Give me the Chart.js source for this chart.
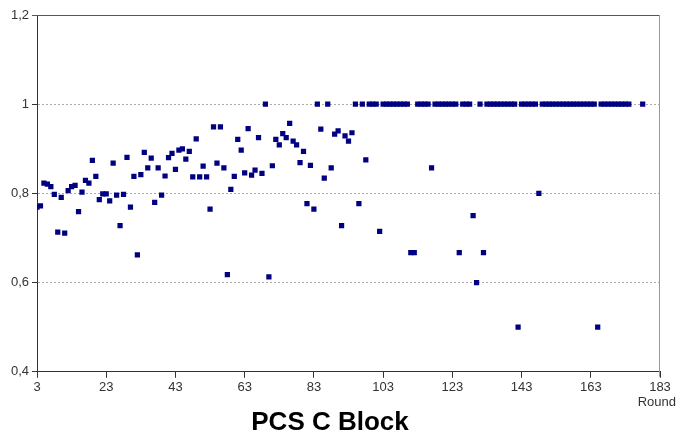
<!DOCTYPE html>
<html>
<head>
<meta charset="utf-8">
<title>PCS C Block</title>
<script src="https://cdn.jsdelivr.net/npm/chart.js@4.4.1/dist/chart.umd.min.js"></script>
<style>
 html, body { margin: 0; padding: 0; background: #fff; }
</style>
</head>
<body>
<canvas id="pcsChart" width="676" height="439"></canvas>
<script>
// rounds (x) and score (y)
var rounds = [
  3, 4, 5, 6, 7, 8, 9, 10, 11, 12, 13, 14, 15, 16, 17, 18, 19, 20, 21, 22,
  23, 24, 25, 26, 27, 28, 29, 30, 31, 32, 33, 34, 35, 36, 37, 38, 39, 40, 41, 42,
  43, 44, 45, 46, 47, 48, 49, 50, 51, 52, 53, 54, 55, 56, 57, 58, 59, 60, 61, 62,
  63, 64, 65, 66, 67, 68, 69, 70, 71, 72, 73, 74, 75, 76, 77, 78, 79, 80, 81, 82,
  83, 84, 85, 86, 87, 88, 89, 90, 91, 92, 93, 94, 95, 96, 97, 98, 99, 100, 101, 102,
  103, 104, 105, 106, 107, 108, 109, 110, 111, 112, 113, 114, 115, 116, 117, 118, 119, 120, 121, 122,
  123, 124, 125, 126, 127, 128, 129, 130, 131, 132, 133, 134, 135, 136, 137, 138, 139, 140, 141, 142,
  143, 144, 145, 146, 147, 148, 149, 150, 151, 152, 153, 154, 155, 156, 157, 158, 159, 160, 161, 162,
  163, 164, 165, 166, 167, 168, 169, 170, 171, 172, 173, 174, 178
];
var scores = [
  0.769, 0.772, 0.823, 0.821, 0.815, 0.798, 0.713, 0.791, 0.711, 0.806, 0.815, 0.818, 0.759, 0.803, 0.829, 0.823, 0.874, 0.838, 0.786, 0.799,
  0.799, 0.783, 0.868, 0.796, 0.728, 0.798, 0.881, 0.769, 0.838, 0.662, 0.842, 0.892, 0.857, 0.879, 0.780, 0.857, 0.796, 0.839, 0.880, 0.890,
  0.854, 0.897, 0.900, 0.877, 0.894, 0.837, 0.922, 0.837, 0.861, 0.837, 0.765, 0.949, 0.868, 0.949, 0.857, 0.618, 0.809, 0.838, 0.921, 0.897,
  0.846, 0.945, 0.841, 0.852, 0.925, 0.845, 1, 0.613, 0.862, 0.921, 0.909, 0.934, 0.925, 0.957, 0.917, 0.909, 0.869, 0.894, 0.777, 0.863,
  0.765, 1, 0.944, 0.834, 1, 0.857, 0.933, 0.940, 0.728, 0.929, 0.917, 0.936, 1, 0.777, 1, 0.875, 1, 1, 1, 0.715,
  1, 1, 1, 1, 1, 1, 1, 1, 0.667, 0.667, 1, 1, 1, 1, 0.857, 1, 1, 1, 1, 1,
  1, 1, 0.667, 1, 1, 1, 0.75, 0.6, 1, 0.667, 1, 1, 1, 1, 1, 1, 1, 1, 1, 0.5,
  1, 1, 1, 1, 1, 0.8, 1, 1, 1, 1, 1, 1, 1, 1, 1, 1, 1, 1, 1, 1,
  1, 1, 0.5, 1, 1, 1, 1, 1, 1, 1, 1, 1, 1
];
var xTicks = [3, 23, 43, 63, 83, 103, 123, 143, 163, 183];
var yTicks = [0.4, 0.6, 0.8, 1, 1.2];

var points = [];
for (var i = 0; i < rounds.length; i++) {
  points.push({ x: rounds[i], y: scores[i] });
}

var FONT = "'Liberation Sans', Arial, sans-serif";

// top + right frame lines and the "Round" label
var framePlugin = {
  id: 'frame',
  beforeDatasetsDraw: function(chart) {
    var a = chart.chartArea, c = chart.ctx;
    c.save();
    c.lineWidth = 1;
    c.strokeStyle = '#555';
    c.beginPath();
    c.moveTo(a.left - 5, a.top + 0.5);
    c.lineTo(a.right, a.top + 0.5);
    c.stroke();
    c.strokeStyle = '#999';
    c.beginPath();
    c.moveTo(a.right - 0.5, a.top);
    c.lineTo(a.right - 0.5, a.bottom + 5);
    c.stroke();
    c.restore();
  },
  afterDraw: function(chart) {
    var a = chart.chartArea, c = chart.ctx;
    c.save();
    c.font = '13px ' + FONT;
    c.fillStyle = '#333';
    c.textAlign = 'right';
    c.textBaseline = 'middle';
    c.fillText('Round', chart.width, a.bottom + 31);
    c.restore();
  }
};

var ctx1 = document.getElementById('pcsChart');

var data1 = {
  datasets: [
    {
      label: 'PCS C Block',
      data: points,
      backgroundColor: '#000080',
      borderColor: '#000080',
      borderWidth: 0,
      pointStyle: 'rect',
      pointRadius: 3.7,
      pointHoverRadius: 3.7
    }
  ]
};

var options1 = {
  responsive: false,
  animation: false,
  devicePixelRatio: 1,
  layout: { padding: { left: 0, right: 16, top: 15, bottom: 0 } },
  plugins: {
    legend: { display: false },
    tooltip: { enabled: false },
    title: {
      display: true,
      position: 'bottom',
      text: 'PCS C Block',
      color: '#000',
      font: { family: FONT, size: 26, weight: 'bold' },
      padding: { top: 1, bottom: 1 }
    }
  },
  scales: {
    x: {
      type: 'linear',
      min: 3,
      max: 183,
      afterBuildTicks: function(scale) {
        scale.ticks = xTicks.map(function(v) { return { value: v }; });
      },
      afterFit: function(scale) { scale.height = 34; },
      ticks: {
        color: '#333',
        font: { family: FONT, size: 13 },
        padding: 2,
        maxRotation: 0,
        autoSkip: false
      },
      grid: {
        drawOnChartArea: false,
        drawTicks: true,
        tickLength: 6,
        tickColor: '#333'
      },
      border: { display: true, color: '#333', width: 1 }
    },
    y: {
      min: 0.4,
      max: 1.2,
      afterBuildTicks: function(scale) {
        scale.ticks = yTicks.map(function(v) { return { value: v }; });
      },
      afterFit: function(scale) { scale.width = 37; },
      ticks: {
        color: '#333',
        font: { family: FONT, size: 13 },
        padding: 3,
        callback: function(v) {
          return String(Math.round(v * 10) / 10).replace('.', ',');
        }
      },
      grid: {
        drawTicks: true,
        tickLength: 5,
        tickColor: '#333',
        lineWidth: 1,
        color: function(c) {
          if (!c.tick) return 'rgba(0,0,0,0)';
          var v = c.tick.value;
          return (v > 1.1 || v < 0.5) ? 'rgba(0,0,0,0)' : '#aaa';
        }
      },
      border: { display: true, color: '#333', width: 1, dash: [2, 2] }
    }
  }
};

var chart1 = new Chart(ctx1, {
  type: 'scatter',
  data: data1,
  options: options1,
  plugins: [framePlugin]
});
</script>
</body>
</html>
